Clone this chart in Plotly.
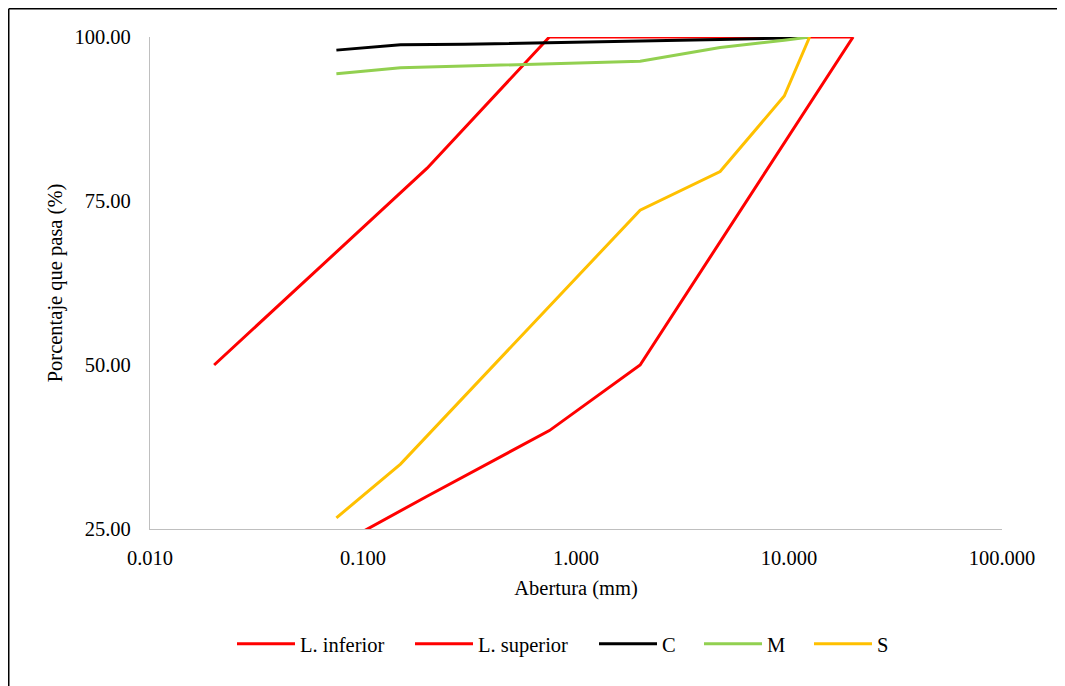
import plotly.graph_objects as go

# ---- data ----
inf_x = [0.055, 0.2, 0.75, 2.0, 20.0]
inf_y = [20.0, 30.0, 40.0, 50.0, 100.0]

sup_x = [0.02, 0.2, 0.75, 20.0]
sup_y = [50.0, 80.0, 100.0, 100.0]

sieves = [0.075, 0.15, 0.3, 0.6, 1.18, 2.36, 4.75, 9.5, 12.5]
c_y = [98.0, 98.8, 98.9, 99.05, 99.2, 99.35, 99.6, 99.85, 100.0]

m_x = [0.075, 0.15, 2.0, 4.75, 9.5, 12.5]
m_y = [94.4, 95.3, 96.3, 98.4, 99.5, 100.0]

s_x = [0.075, 0.15, 2.0, 4.75, 9.5, 12.5]
s_y = [26.7, 34.9, 73.6, 79.5, 91.0, 100.0]

x_tickvals = [0.01, 0.1, 1, 10, 100]
x_ticktext = ["0.010", "0.100", "1.000", "10.000", "100.000"]
y_tickvals = [25, 50, 75, 100]
y_ticktext = ["25.00", "50.00", "75.00", "100.00"]

FONT = "Liberation Serif, Times New Roman, serif"
OFF = 8  # page body margin
W, H = 1065 - OFF, 686 - OFF
# plot area in page pixels: x 150..1002, y 37..529
L, T = 150 - OFF, 37 - OFF
R, B = 1065 - 1002, 686 - 529
PW, PH = 1002 - 150, 529 - 37

def px_x(p):  # page px -> paper x
    return (p - 150) / PW

def px_y(p):  # page px -> paper y
    return (529 - p) / PH

FS = 20.5
series = [
    ("L. inferior", inf_x, inf_y, "#FF0000", 237),
    ("L. superior", sup_x, sup_y, "#FF0000", 415),
    ("C", sieves, c_y, "#000000", 599),
    ("M", m_x, m_y, "#92D050", 704),
    ("S", s_x, s_y, "#FFC000", 814),
]

fig = go.Figure()
legends = {}
for i, (name, xs, ys, col, lx) in enumerate(series):
    key = "legend" if i == 0 else f"legend{i + 1}"
    fig.add_trace(go.Scatter(x=xs, y=ys, mode="lines", name=name,
                             line=dict(color=col, width=3), legend=key))
    legends[key] = dict(orientation="h", xanchor="left", yanchor="middle",
                        x=px_x(lx - 5), y=px_y(644),
                        font=dict(family=FONT, size=FS),
                        itemwidth=58, bgcolor="rgba(0,0,0,0)")

shapes = [
    dict(type="line", xref="paper", yref="paper",
         x0=px_x(OFF + 0.75), x1=px_x(1080), y0=px_y(OFF + 0.75), y1=px_y(OFF + 0.75),
         line=dict(color="#000000", width=1.5)),
    dict(type="line", xref="paper", yref="paper",
         x0=px_x(OFF + 0.75), x1=px_x(OFF + 0.75), y0=px_y(OFF + 0.75), y1=px_y(700),
         line=dict(color="#000000", width=1.5)),
]

fig.update_layout(
    width=W, height=H,
    margin=dict(l=L, r=R, t=T, b=B, autoexpand=False),
    paper_bgcolor="white", plot_bgcolor="white",
    font=dict(family=FONT, size=FS, color="#000000"),
    showlegend=True,
    shapes=shapes,
    xaxis=dict(type="log", range=[-2, 2], tickvals=x_tickvals, ticktext=x_ticktext,
               showgrid=False, zeroline=False, showline=True, linecolor="#BFBFBF",
               linewidth=1.3, ticks="", ticklabelstandoff=10,
               tickfont=dict(family=FONT, size=FS),
               title=dict(text="Abertura (mm)", font=dict(family=FONT, size=FS), standoff=12)),
    yaxis=dict(range=[25, 100], tickvals=y_tickvals, ticktext=y_ticktext,
               showgrid=False, zeroline=False, showline=True, linecolor="#BFBFBF",
               linewidth=1.3, ticks="", ticklabelstandoff=14,
               tickfont=dict(family=FONT, size=FS),
               title=dict(text="Porcentaje que pasa (%)", font=dict(family=FONT, size=FS), standoff=6)),
)
fig.update_layout(**legends)

fig.write_html("out.html")
